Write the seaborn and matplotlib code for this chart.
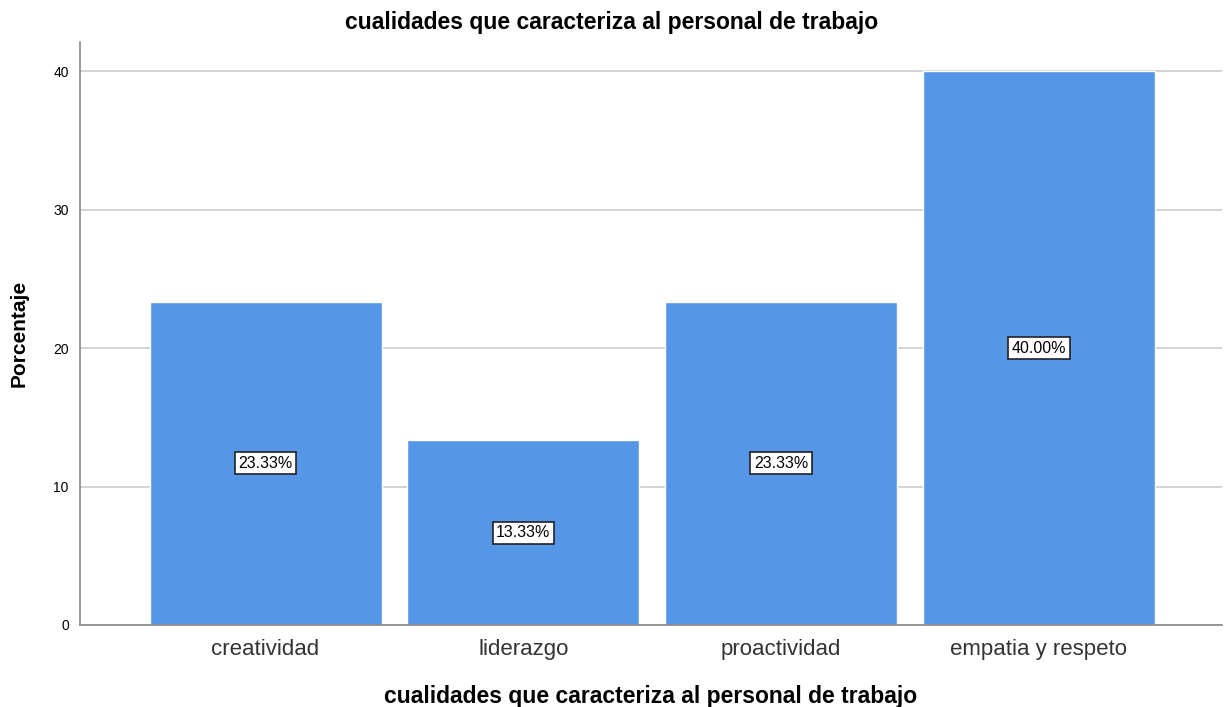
import matplotlib
matplotlib.use("Agg")
import matplotlib.pyplot as plt
import seaborn as sns
import pandas as pd

categorias = ["creatividad", "liderazgo", "proactividad", "empatia y respeto"]
porcentajes = [23.33, 13.33, 23.33, 40.00]
etiquetas = ["23.33%", "13.33%", "23.33%", "40.00%"]

df = pd.DataFrame({"Categoria": categorias, "Porcentaje": porcentajes})

sns.set_style("white")
plt.rcParams["font.family"] = ["Liberation Sans", "DejaVu Sans"]
plt.rcParams["text.color"] = "black"
plt.rcParams["axes.labelcolor"] = "black"

fig = plt.figure(figsize=(12.28, 7.07), dpi=100)
ax = fig.add_axes([0.0651, 0.116, 0.9299, 0.8246])

sns.barplot(data=df, x="Categoria", y="Porcentaje", color="#5596E6",
            saturation=1, width=0.9, ax=ax, zorder=2)

for i, (v, lab) in enumerate(zip(porcentajes, etiquetas)):
    ax.text(i, v / 2, lab, ha="center", va="center", fontsize=11.5, zorder=3,
            bbox=dict(boxstyle="square,pad=0.22", fc="white", ec="#222222", lw=1.2))

ax.set_ylim(0, 42.1)
ax.set_xlim(-0.72, 3.71)
ax.set_yticks([0, 10, 20, 30, 40])
ax.yaxis.grid(True, color="#cccccc", lw=1.2, zorder=0)
ax.set_axisbelow(True)
for s in ["top", "right"]:
    ax.spines[s].set_visible(False)
for s in ["left", "bottom"]:
    ax.spines[s].set_color("#888888")
    ax.spines[s].set_linewidth(1.2)

ax.tick_params(axis="x", labelsize=16, length=0, pad=10, labelcolor="#333333")
ax.tick_params(axis="y", labelsize=10, length=0, pad=8, labelcolor="black")

fig.text(0.498, 0.968, "cualidades que caracteriza al personal de trabajo",
         fontsize=16.5, fontweight="bold", ha="center", va="center")
ax.set_xlabel("cualidades que caracteriza al personal de trabajo",
              fontsize=16.5, fontweight="bold", labelpad=18)
ax.set_ylabel("Porcentaje", fontsize=15, fontweight="bold", labelpad=18)

fig.savefig("out.png", dpi=100)
